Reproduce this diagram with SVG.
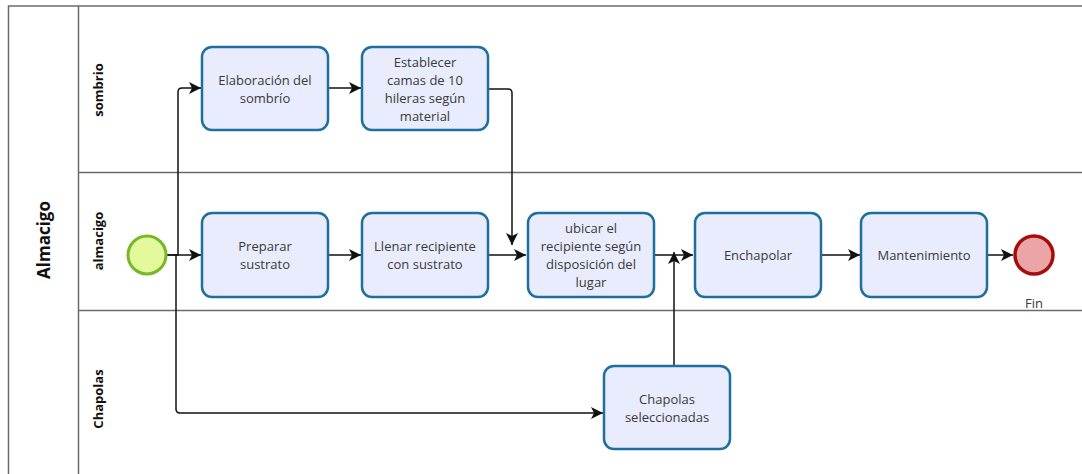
<svg xmlns="http://www.w3.org/2000/svg" width="1082" height="474" viewBox="0 0 1082 474">
  <defs>
    <style>
      .pool { stroke: #6b6b6b; stroke-width: 1.5; fill: none; }
      .task rect { fill: #e8ecfd; stroke: #1d6fa0; stroke-width: 2.5; }
      .task text, .lbl { font-family: "Open Sans", "DejaVu Sans", sans-serif; font-size: 13px; fill: #3a3a3a; text-anchor: middle; }
      .lane { font-family: "Open Sans", "DejaVu Sans", sans-serif; font-size: 13px; font-weight: bold; fill: #111; text-anchor: middle; }
      .poolname { font-family: "Open Sans", "DejaVu Sans", sans-serif; font-size: 17px; font-weight: bold; fill: #111; text-anchor: middle; }
      .flow { fill: none; stroke: #111; stroke-width: 1.5; marker-end: url(#arrow); }
    </style>
    <marker id="arrow" markerWidth="14" markerHeight="12" refX="12" refY="6" orient="auto" markerUnits="userSpaceOnUse">
      <path d="M0,0 L12,6 L0,12 L3,6 Z" fill="#111"/>
    </marker>
  </defs>

  <rect width="1082" height="474" fill="#ffffff"/>

  <!-- pool and lanes -->
  <g id="pool">
    <path class="pool" d="M8.5,474 V6 H1082"/>
    <path class="pool" d="M78.5,6 V474"/>
    <path class="pool" d="M78.5,172.5 H1082"/>
    <path class="pool" d="M78.5,310.5 H1082"/>
    <text class="poolname" transform="translate(50,240) rotate(-90)">Almacigo</text>
    <text class="lane" transform="translate(103,90) rotate(-90)">sombrio</text>
    <text class="lane" transform="translate(103,241) rotate(-90)">almacigo</text>
    <text class="lane" transform="translate(103,399) rotate(-90)">Chapolas</text>
  </g>

  <!-- sequence flows -->
  <g id="connectors">
    <path class="flow" d="M167,255 H201"/>
    <path class="flow" d="M167,255 H178 V92 Q178,88 182,88 H201"/>
    <path class="flow" d="M176,255 V409 Q176,413 180,413 H603"/>
    <path class="flow" d="M328,88 H361"/>
    <path class="flow" d="M488,89 H508 Q512,89 512,93 V245"/>
    <path class="flow" d="M328,255 H361"/>
    <path class="flow" d="M488,255 H526"/>
    <path class="flow" d="M654,255 H693"/>
    <path class="flow" d="M674,366 V252"/>
    <path class="flow" d="M821,255 H860"/>
    <path class="flow" d="M987,255 H1013"/>
  </g>

  <g id="start">
    <circle cx="147" cy="255" r="19" fill="#e4f99b" stroke="#77b72a" stroke-width="3"/>
  </g>

  <g id="t_elaboracion" class="task">
    <rect x="202" y="47" width="126" height="83" rx="10"/>
    <text x="265" y="85">Elaboración del</text>
    <text x="265" y="103">sombrío</text>
  </g>

  <g id="t_establecer" class="task">
    <rect x="362" y="47" width="126" height="83" rx="10"/>
    <text x="425" y="67">Establecer</text>
    <text x="425" y="85">camas de 10</text>
    <text x="425" y="103">hileras según</text>
    <text x="425" y="121">material</text>
  </g>

  <g id="t_preparar" class="task">
    <rect x="202" y="213" width="126" height="84" rx="10"/>
    <text x="265" y="251">Preparar</text>
    <text x="265" y="269">sustrato</text>
  </g>

  <g id="t_llenar" class="task">
    <rect x="362" y="213" width="126" height="84" rx="10"/>
    <text x="425" y="251">Llenar recipiente</text>
    <text x="425" y="269">con sustrato</text>
  </g>

  <g id="t_ubicar" class="task">
    <rect x="528" y="213" width="126" height="84" rx="10"/>
    <text x="591" y="233">ubicar el</text>
    <text x="591" y="251">recipiente según</text>
    <text x="591" y="269">disposición del</text>
    <text x="591" y="287">lugar</text>
  </g>

  <g id="t_enchapolar" class="task">
    <rect x="695" y="213" width="126" height="84" rx="10"/>
    <text x="758" y="260">Enchapolar</text>
  </g>

  <g id="t_mantenimiento" class="task">
    <rect x="861" y="213" width="126" height="84" rx="10"/>
    <text x="924" y="260">Mantenimiento</text>
  </g>

  <g id="t_chapolas" class="task">
    <rect x="604" y="366" width="126" height="83" rx="10"/>
    <text x="667" y="404">Chapolas</text>
    <text x="667" y="422">seleccionadas</text>
  </g>

  <g id="end">
    <circle cx="1034" cy="255" r="19" fill="#eba5a7" stroke="#a50c0c" stroke-width="3.5"/>
    <text class="lbl" x="1034" y="308">Fin</text>
  </g>
</svg>
